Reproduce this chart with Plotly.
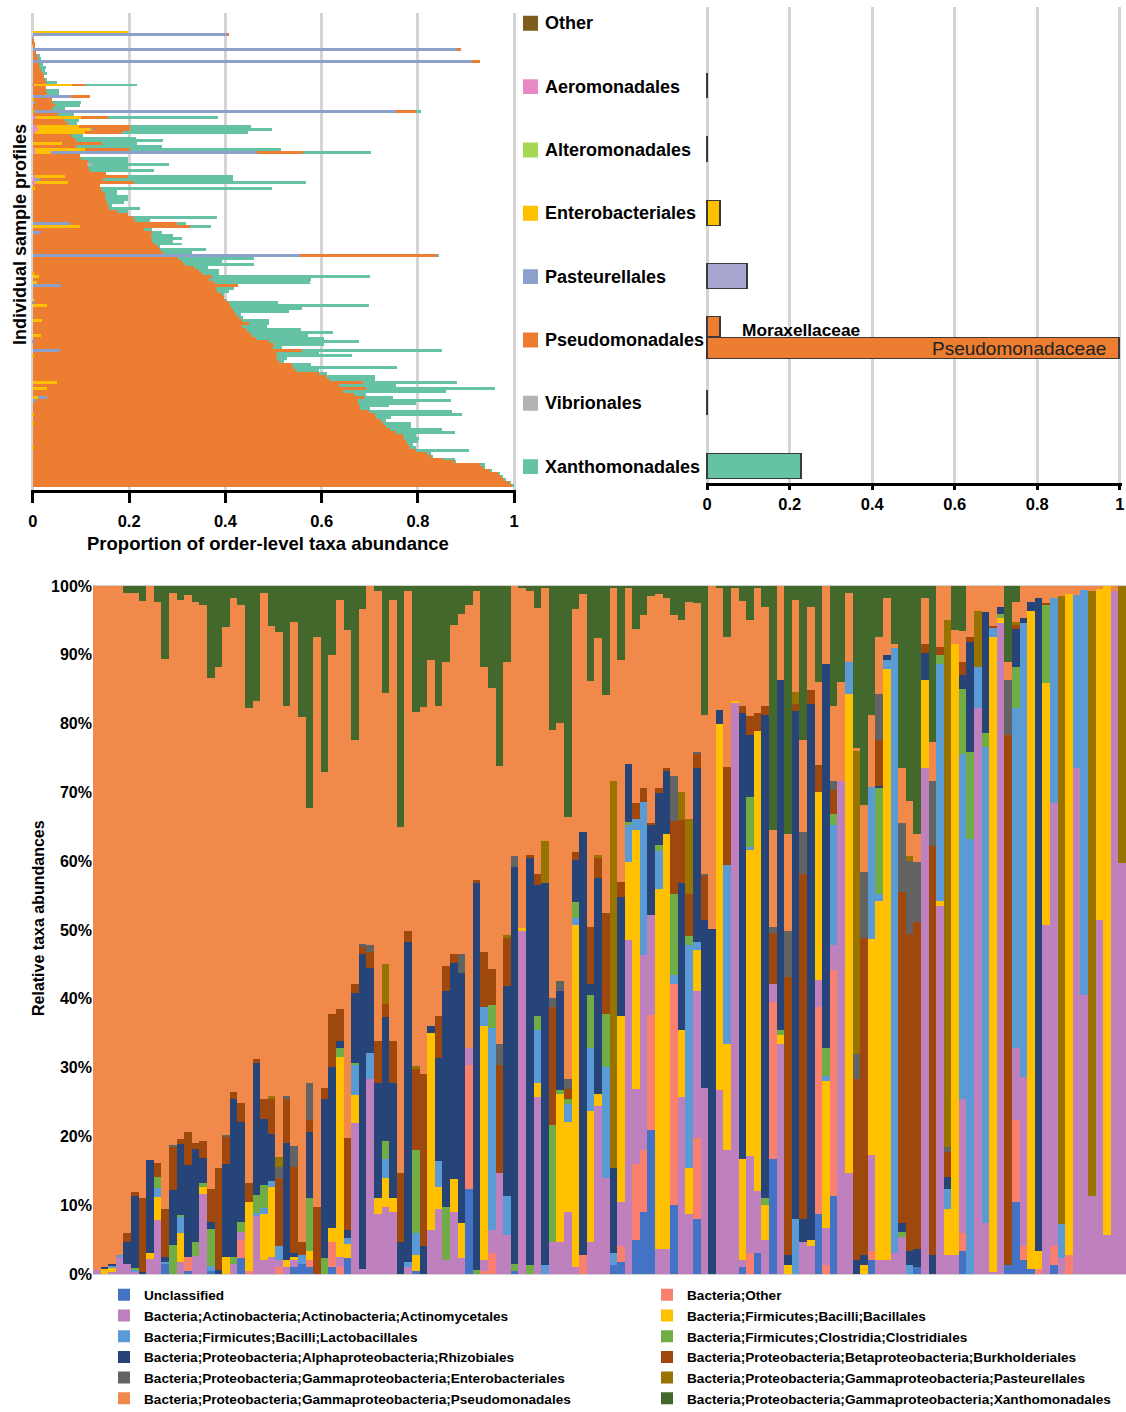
import plotly.graph_objects as go

W, H = 1126, 1412
ARIAL = "Liberation Sans, Arial, sans-serif"

# ---------------- per-sample order-level proportions (top left) ----------------
# orders that occur only in a handful of samples: {row: proportion}
AEROMONADALES = {18: .003, 29: .007, 32: .008, 33: .010, 34: .005, 40: .005, 41: .005,
                 49: .005, 50: .005, 51: .004}
ENTEROBACTERIALES = {0: .198, 18: .079, 23: .003, 27: .003, 29: .093, 32: .087, 33: .112,
                     34: .103, 38: .060, 40: .103, 41: .033, 49: .061, 51: .069, 53: .004,
                     66: .097, 82: .003, 83: .012, 85: .009, 91: .005, 93: .030, 98: .019,
                     103: .016, 110: .003, 119: .049, 121: .030, 124: .010, 130: .003,
                     133: .002, 141: .002}
PASTEURELLALES = {1: .404, 6: .882, 10: .912, 22: .079, 24: .005, 27: .752, 33: .003,
                  41: .428, 50: .010, 65: .077, 68: .017, 76: .556, 86: .058, 92: .003,
                  105: .003, 108: .056, 124: .020, 125: .007}
VIBRIONALES = {2: .003, 45: .009}
PSEUDOMONADALES = [
    0, .002, 0, .002, .004, .005, .007, .007, .009, .010,
    .018, .012, .014, .016, .020, .022, .025, .028, .026, .028,
    .028, .030, .039, .037, .037, .045, .040, .042, .052, .057,
    .066, .072, .107, .077, .077, .080, .085, .090, .084, .090,
    .094, .096, .097, .100, .115, .113, .115, .118, .151, .132,
    .131, .138, .139, .137, .143, .150, .150, .151, .153, .157,
    .158, .174, .198, .209, .212, .222, .229, .230, .230, .246,
    .247, .248, .254, .261, .264, .270, .284, .301, .310, .317,
    .334, .345, .349, .360, .365, .367, .369, .381, .383, .393,
    .397, .395, .404, .380, .414, .418, .422, .428, .416, .449,
    .435, .442, .449, .440, .463, .487, .501, .498, .504, .505,
    .505, .508, .511, .539, .540, .546, .595, .609, .616, .636,
    .637, .662, .644, .668, .659, .668, .675, .679, .679, .699,
    .707, .713, .724, .725, .734, .742, .755, .769, .772, .776,
    .779, .781, .797, .818, .828, .852, .877, .929, .936, .950,
    .967, .974, .980, .990, .996]
XANTHOMONADALES = [
    0, 0, 0, 0, 0, 0, 0, 0, .005, .007,
    0, .008, .013, .009, .010, 0, .005, .022, .109, 0,
    .026, .024, 0, 0, .058, .052, .026, .010, .034, .228,
    .030, .020, .251, .295, .261, .024, .130, .180, .072, .178,
    .314, .141, 0, .098, .083, .161, .083, .134, 0, .217,
    .269, .356, 0, .355, .031, .024, .048, .047, .037, .007,
    .065, .024, 0, .174, .032, .019, .045, .017, .021, .046,
    .063, .044, .056, .003, .096, .060, .004, .158, .083, .142,
    .030, .041, .034, .329, .213, .200, 0, .037, .024, .003,
    0, .004, .103, .289, .145, .114, .011, .008, .055, .041,
    .052, .115, .174, .115, .142, .187, .104, .020, .291, .089,
    .155, .021, .010, .039, .217, .049, .017, .101, .094, .197,
    .118, .268, .215, .024, .059, .193, .122, .062, .021, .171,
    .181, .032, .010, .059, .052, .109, .122, .028, .030, .024,
    .011, .014, .110, .010, .004, .025, .003, .011, .002, .003,
    .004, .003, .002, .003, .002]

# ---------------- mean order abundance (top right) ----------------
ORDERS = ["Other", "Aeromonadales", "Alteromonadales", "Enterobacteriales",
          "Pasteurellales", "Pseudomonadales", "Vibrionales", "Xanthomonadales"]
ORDER_ABUNDANCE = [None, 0.002, 0.001, 0.033, 0.098, None, 0.001, 0.228]
PSEUDO_FAMILIES = ["Moraxellaceae", "Pseudomonadaceae"]
PSEUDO_FAMILY_ABUNDANCE = [0.033, 1.0]
ORDER_SWATCH = ["#7F5B1E", "#E78AC3", "#A6D854", "#FFC000", "#8DA0CB", "#ED7D31",
                "#B3B3B3", "#66C2A5"]
ORDER_BAR = ["#7F5B1E", "#E78AC3", "#A6D854", "#FFC000", "#A8A4D0", "#ED7D31",
             "#B3B3B3", "#66C2A5"]

# ---------------- relative taxa abundances per sample (bottom, %) ----------------
UNCLASSIFIED = [
    0, 0, 0, 0, 0, 0, 0, 0, 0, 1.4,
    0, 0, .5, 0, 0, .4, 0, 0, 0, 2.3,
    0, 0, 0, 0, 0, 0, 1, 1.5, 1, 0,
    0, 1, 0, 2.3, 0, 0, 0, 0, 0, 0,
    0, 0, .5, 0, 0, 0, 0, 0, 0, 12.4,
    0, 0, 0, 0, 0, .5, 0, 0, 0, 0,
    0, 0, 0, 0, 0, 0, 0, 0, 1.3, 1.7,
    0, 5, 9, 21, 0, 0, 10, 0, 0, 8,
    0, 0, 0, 0, 0, 1, 0, 3, 0, 16.7,
    0, 0, 0, 0, 0, 8.7, 0, 11.4, 0, 0,
    0, 0, 2, 0, 0, 0, 0, 0, 1, 0,
    0, 0, 0, 0, 3.3, 0, 0, 0, 0, 0,
    1.3, 10.4, 2, .7, 0, 0, 1.3, 0, 0, 0,
    0, 0, 0, 0, 0, 0]
BACT_OTHER = [
    0, 0, 0, 0, 0, 0, 0, 0, 0, 0,
    0, 0, 2, 0, 0, 0, 0, 0, 0, 2.6,
    .5, 0, 0, 0, 1, 0, 0, 0, 1, 0,
    0, 3.7, 1, 0, 0, 0, 0, 0, 0, 0,
    0, 0, 0, 0, 0, 0, 0, 0, 0, 18,
    0, .5, 3, 0, 0, 0, 0, 0, 0, 0,
    0, 0, 0, 0, 2.7, 0, 0, 0, 0, 2.3,
    0, 11, 9, 16.6, 0, 0, 32.1, 0, 0, 11.7,
    0, 0, 0, 0, 0, 0, 3, 0, 0, 22.8,
    0, 0, 0, 0, 0, 30.1, 1.3, 32.8, 0, 0,
    0, 0, 1.3, 0, 0, 0, 0, 0, 0, 0,
    0, 0, 0, 0, 2.7, 0, 0, 0, 0, 0,
    0, 12, 2, 0, .7, 0, 2.7, 0, 2.7, 0,
    0, 0, 0, 0, 0, 0]
ACTINOMYCETALES = [
    .6, 0, .3, 2.6, 1.5, .3, 0, 2.2, 7.9, 0,
    0, 1.7, 0, 2.6, 11.7, 0, 0, 0, 1.4, 1.2,
    0, 8.5, 2, 2.4, 1, 1, 1, 0, 0, 0,
    0, 0, 1.5, 0, 22, .7, 28.4, 8.7, 9.7, 9,
    0, 1, 0, 0, 6.4, 9.4, 2, 9, 2.3, 2.4,
    0, 1.5, 3.4, 14.7, 5.7, 0, 49.8, 0, 25.8, 0,
    4.7, 4.7, 9, 1, 0, 4.7, 24.4, 14, 0, 6.4,
    48.5, 10.9, 28.3, 14.6, 3.7, 3.7, 0, 25.8, 8.7, 21.4,
    27, 0, 26.8, 18, 83, 1, 14.2, 9, 5, 2.6,
    33.4, 0, 0, 4.7, 4, 4, 5.4, 3.6, 71.6, 14.7,
    0, 0, 14, 2, 2, 3, 5.4, 0, 0, 73.6,
    0, 53.5, 2.7, 2.7, 19.4, 0, 82.3, 7.4, .3, 94.6,
    0, 10.4, 24.7, 0, 0, 50.8, 64.5, 2.3, 0, 73.6,
    40.5, 11.4, 51.4, 5.7, 99.3, 59.8]
BACILLALES = [
    0, .8, .6, 0, 0, 0, 0, .8, 3.3, 0,
    0, 4.2, 0, 0, .9, 0, 0, 2.4, 0, 0,
    9.9, 0, 6.7, 10.3, 0, 1, .5, 0, 1.3, 0,
    0, 2, 29.1, 2, 4, 0, 0, 2.3, 4.3, 2,
    0, 0, 2.3, 0, 28.7, 3.3, 0, 4.8, 5.1, 0,
    0, 34, 0, 0, 0, 0, .5, 0, 2, 0,
    0, 21.4, 13.1, 49.8, 0, 19, 1.7, 0, 0, 27.1,
    11.4, 37.6, 0, 0, 52.2, 60.2, 0, 9.7, 6.7, 6,
    0, 0, 53.2, 15.4, .3, 14.7, 44.5, 66.9, 5, 0,
    1.4, 1.3, 0, 0, 1, 27.2, 21.4, 0, 0, 69.6,
    0, 1.3, 31.4, 52.2, 85.9, 0, 0, 0, 0, 12.7,
    0, .7, 6.7, 88.9, 0, 0, 0, 0, 92.3, .7,
    0, 0, 0, 95.7, 2.7, 35.1, 0, 0, 96.1, 0,
    0, 0, 48.2, 94.3, 0, 0]
LACTOBACILLALES = [
    0, 0, .2, .2, 0, .3, 0, 0, 1.3, .4,
    0, 2.4, 0, 0, 0, .8, 0, 0, 0, 0,
    0, .4, .9, .8, 2, 0, 0, 1.2, 0, 0,
    0, 0, 0, 1, 4.4, 0, 3.7, 0, 2.7, 0,
    0, .7, 3.2, 0, 0, 3.7, 0, 0, 0, 0,
    0, 2.8, 29.4, 0, 5.7, 0, 0, 0, 7.7, 1.3,
    0, 0, 2.6, 1, 0, 9.1, 0, 16.1, 1.7, 0,
    5.3, 1.7, 22.3, 0, 5.6, 0, 1.4, 0, 32.4, 1.1,
    0, 0, 0, 26.1, 0, 0, .3, 0, 0, 0,
    0, 0, 8, 0, 0, 0, .7, 17.4, 0, 4.7,
    0, 0, 22.1, 1, 1.3, 88, 0, 1.3, 0, 0,
    0, 34.4, 3, 0, 50.2, 63.2, 5.9, 69.2, 1.3, 0,
    0, 49.5, 65.9, 0, 0, 0, 29.7, 5, 0, 25.1,
    58.9, 0, 0, 0, 0, 0]
CLOSTRIDIALES = [
    0, 0, 0, 0, 0, .3, 0, 0, 1.6, 0,
    4.2, .3, 0, 2, .6, 5.4, 0, 0, 1.1, 1.4,
    0, 2.6, 3.4, 0, 0, 0, 0, 0, 7.7, 0,
    2.3, 0, 1.2, 0, .3, 0, 0, 0, 2.6, 0,
    0, 0, 12, 0, 0, 0, 7.7, 0, 0, 0,
    .6, 0, 3.3, 0, 0, 1, 0, 1.3, 2, 0,
    17, .7, .7, 2.2, 0, 7.7, 0, 7.7, 0, 0,
    .5, 0, 0, 0, .8, 0, 11.7, 0, 1.4, 0,
    0, 0, 0, 0, 0, 0, 7.4, 0, 1, 0,
    .6, 0, 0, 0, 0, 0, 4, 1.7, 0, 0,
    0, 0, 0, 15.4, 0, 0, .7, 0, 0, 0,
    0, 1.3, 0, 0, 9.5, 12.7, 0, 2, 0, .7,
    0, 6, 0, 0, 0, 11.4, 0, 0, 0, 0,
    0, 0, 0, 0, 0, 0]
RHIZOBIALES = [
    0, .2, .3, 0, 3.2, 10.4, .3, 13.5, 0, .7,
    8, 10.3, 13.4, 13.5, 3.6, 1, .6, 13.6, 22.9, 14.6,
    0, 19.1, 9.5, 6.9, 0, 17, .5, 0, 9.7, 0,
    23.1, 23.4, 1, 1.1, 10.1, 45.8, 12.4, 16.8, 18, 16.8,
    4.7, 46.6, 0, 4, 1, 15, 31.4, 31.4, 36.3, 0,
    56.3, 0, 0, 0, 30.4, 57.7, 0, 59.2, 19, 55.6,
    0, 14.3, 0, 6.2, 61.5, 1.6, 31.4, 0, 12.4, 17.3,
    8.5, 0, 0, 13, 7.6, 9.2, 0, 21.4, 0, 25.4,
    24.5, 50.2, 2, 0, 0, 64.9, 9, 0, 70.3, 0,
    50.9, 1.4, 73.9, 3.3, 77.9, 0, 55.8, 0, 0, 0,
    2, 1.4, 0, .3, .7, 0, 1.3, 2, 2.7, 4,
    2.7, 0, 1.7, 0, 1.9, 16, 0, 17.6, 0, 1,
    0, 5.4, .7, 1.3, 94.9, 0, 0, 0, 0, 0,
    0, 0, 0, 0, 0, 0]
BURKHOLDERIALES = [
    0, 0, 0, 0, 1.3, .6, 10.8, 0, 2, 7,
    6.2, .7, 4.8, 1, 2.6, 4.8, 14.8, 4, 1, 2.8,
    2.8, .6, 2.9, 5, 10, 6.5, 12.6, 2, 1.7, 9.7,
    1.7, 7.7, 4.7, 13.3, 1.3, 1, 2.3, 6, 2, 6,
    10, 1.5, 11.8, 25.1, 0, 6.1, 3.7, 1.3, 0, 0,
    .4, 8, 5.2, 15.7, 7, 0, 0, .4, 1.7, 0,
    17.1, 0, 1.5, 1.2, 0, 8.4, 3, 14.7, 0, 2.2,
    0, 2.2, 2, .4, .7, .4, 10.7, 9.1, 6, 2,
    6.4, 0, 0, 14.2, 0, 1, 2.7, 2.7, 1.3, 7.4,
    0, 40.4, 1, 50.2, 2, 4, 0, 3.5, 0, 0,
    26.4, 46.1, 0, 6.7, 0, 0, 48.1, 46.1, 47.5, 1.3,
    59.5, 1.3, 3.7, 0, 2, .7, 0, 0, .3, 0,
    77, .7, 0, 0, 0, .3, 0, 0, 0, 0,
    0, 0, 0, 0, 0, 0]
ENTEROBACT_G = [
    0, 0, 0, 0, 0, 0, 0, 0, 0, 0,
    .3, 0, 0, 0, 0, 0, 0, .2, 0, 0,
    0, 0, 0, 0, 1.6, .4, 3, 0, 5.4, 0,
    0, 0, 0, 0, 0, .5, 1, 0, 0, 0,
    0, 0, 0, 0, 0, 0, 0, 0, 2.8, 0,
    0, 0, 0, 3, 0, 1.5, 0, 0, 0, 0,
    1.3, 1.5, 1.5, 0, 0, 0, 0, 0, 0, 0,
    0, 0, 0, 0, 0, 0, 6.5, 0, 0, .3,
    .3, 0, 0, 0, 0, 0, 0, 0, 0, 1,
    0, 6.7, 0, 6, 0, 0, 0, 1.2, 0, 0,
    3.6, 9.7, 0, 6.7, 0, 0, 10, 10.7, 8.7, 0,
    9.4, 0, .7, 0, 0, 0, 0, 0, 0, 0,
    8, 0, 0, 0, 0, 0, 0, 0, 0, 0,
    0, 0, 0, 0, 0, 0]
PASTEUR_G = [
    0, 0, 0, 0, 0, 0, 0, 0, 0, 0,
    0, 0, 0, 0, 0, 0, 0, 0, 0, 0,
    0, 0, 0, .5, 1.4, 0, 0, 0, 0, 0,
    0, 0, 0, 0, 0, 0, 0, 0, 5.7, 0,
    0, 0, .4, 0, 0, 0, 0, 0, 0, 0,
    0, 0, 0, 0, .5, 0, 0, 0, 0, 6,
    0, 0, 0, 0, 0, 0, .4, 0, 56.2, 0,
    0, 0, 0, 0, 0, 0, 0, 4, 11, 0,
    0, 0, 0, 0, 0, 0, 0, 0, 0, 0,
    0, 0, 1.7, 0, 0, 0, 0, 0, 0, 0,
    44, 0, 0, 0, 0, 0, 0, .7, 0, 0,
    0, 0, 76.6, 0, 0, 0, 8.1, 0, 0, 0,
    0, .3, 0, 0, 0, 0, 0, 91.3, 0, 0,
    0, 87.9, 0, 0, 0, 40.2]
PSEUDO_G = [
    99.4, 99, 98.6, 97.2, 93, 87.1, 86.7, 83.5, 81.6, 79.9,
    80.3, 78.4, 78, 78.6, 77.9, 74.2, 72.9, 73.8, 71.9, 72.4,
    69.1, 52.1, 73.6, 68.3, 76.3, 56.6, 76.1, 76.3, 40, 82.9,
    45.8, 52.2, 59.5, 73.9, 35.5, 48.7, 52.2, 65.5, 39.4, 64.2,
    50.3, 49.5, 51.5, 53.3, 53.2, 45, 44.2, 47.9, 49.5, 64.5,
    42, 41.5, 40.9, 40.4, 39.7, 39.3, 49.4, 38.4, 38.6, 36.9,
    38.9, 37.5, 38, 35.3, 34.7, 35.7, 31.5, 31.6, 28.2, 32.2,
    25.6, 25.4, 25.2, 32.9, 28.3, 24.8, 23.4, 25.1, 31.5, 21.6,
    23, 49.8, 17.7, 18.9, 16.4, 15.2, 14, 18.2, 14.4, 14,
    13.7, 14.1, 13.4, 13.4, 12.1, 12, 11.4, 11, 14.4, 10,
    .5, 9.7, 10.4, 8.3, 8.4, .5, 8.1, 8, 4, 6.7,
    5.7, 8.8, 4.9, 2, 4.4, 7.4, 3.7, 3.8, 5.8, 3,
    2.7, 3, 4.7, 2.3, 1.7, 2.4, 1.8, 1.4, 1.2, 1.3,
    .6, .7, .4, 0, .7, 0]
XANTHO_G = [
    0, 0, 0, 0, 1, 1, 2.2, 0, 2.3, 10.6,
    1, 2, 1.3, 2.3, 2.7, 13.4, 11.7, 6, 1.7, 2.7,
    17.7, 16.7, 1, 5.8, 6.7, 17.5, 5.3, 19, 32.2, 7.4,
    27.1, 10, 2, 6.4, 22.4, 3.3, 0, .7, 15.6, 2,
    35, .7, 18.3, 17.6, 10.7, 17.5, 11, 5.6, 4, 2.7,
    .7, 11.7, 14.8, 26.2, 11, 0, .3, .7, 3.2, .2,
    21, 19.9, 33.6, 3.3, 1.1, 13.8, 7.6, 15.9, .2, 10.8,
    .2, 6.2, 4.2, 1.5, 1.1, 1.7, 4.2, 4.9, 2.3, 2.5,
    18.8, 0, .3, 7.4, .3, 2.2, 4.9, .2, 3, 35.5,
    0, 36.1, 2, 22.4, 3, 14, 0, 17.4, 14, 1,
    23.5, 31.8, 18.8, 7.4, 1.7, 8.5, 26.4, 31.2, 36.1, 1.7,
    22.7, 0, 0, 6.4, 6.6, 0, 0, 0, 0, 0,
    11, 2.3, 0, 0, 0, 0, 0, 0, 0, 0,
    0, 0, 0, 0, 0, 0]

TAXA = [
    ("Unclassified", UNCLASSIFIED, "#4472C4", "legend"),
    ("Bacteria;Other", BACT_OTHER, "#F9806F", "legend2"),
    ("Bacteria;Actinobacteria;Actinobacteria;Actinomycetales", ACTINOMYCETALES, "#BF80BE", "legend"),
    ("Bacteria;Firmicutes;Bacilli;Bacillales", BACILLALES, "#FFC000", "legend2"),
    ("Bacteria;Firmicutes;Bacilli;Lactobacillales", LACTOBACILLALES, "#5B9BD5", "legend"),
    ("Bacteria;Firmicutes;Clostridia;Clostridiales", CLOSTRIDIALES, "#70AD47", "legend2"),
    ("Bacteria;Proteobacteria;Alphaproteobacteria;Rhizobiales", RHIZOBIALES, "#264478", "legend"),
    ("Bacteria;Proteobacteria;Betaproteobacteria;Burkholderiales", BURKHOLDERIALES, "#9E480E", "legend2"),
    ("Bacteria;Proteobacteria;Gammaproteobacteria;Enterobacteriales", ENTEROBACT_G, "#636363", "legend"),
    ("Bacteria;Proteobacteria;Gammaproteobacteria;Pasteurellales", PASTEUR_G, "#997300", "legend2"),
    ("Bacteria;Proteobacteria;Gammaproteobacteria;Pseudomonadales", PSEUDO_G, "#F0894A", "legend"),
    ("Bacteria;Proteobacteria;Gammaproteobacteria;Xanthomonadales", XANTHO_G, "#43682B", "legend2"),
]


def px_x(p):
    return p / W


def px_y(p):
    return 1 - p / H


def bold(size, family=ARIAL, color="black"):
    return dict(family=family, size=size, color=color, weight="bold")


fig = go.Figure()

# ---- top-left: stacked horizontal bars, one row per sample ----
n_rows = len(PSEUDOMONADALES)
rows = list(range(n_rows))
top_left = [
    ("Aeromonadales", [AEROMONADALES.get(r, 0) for r in rows], "#E78AC3"),
    ("Enterobacteriales", [ENTEROBACTERIALES.get(r, 0) for r in rows], "#FFC000"),
    ("Pasteurellales", [PASTEURELLALES.get(r, 0) for r in rows], "#8DA0CB"),
    ("Pseudomonadales", PSEUDOMONADALES, "#ED7D31"),
    ("Vibrionales", [VIBRIONALES.get(r, 0) for r in rows], "#B3B3B3"),
    ("Xanthomonadales", XANTHOMONADALES, "#66C2A5"),
]
for name, vals, col in top_left:
    fig.add_trace(go.Bar(
        name=name, y=rows, x=vals, orientation="h", width=1.0,
        marker=dict(color=col, line=dict(width=0)),
        xaxis="x", yaxis="y", showlegend=False, hoverinfo="x+name"))

# ---- top-right: mean abundance per order ----
fig.add_trace(go.Bar(
    y=ORDERS, x=ORDER_ABUNDANCE, orientation="h", width=0.4,
    marker=dict(color=ORDER_BAR, line=dict(color="#3a3a3a", width=1.5)),
    xaxis="x2", yaxis="y2", showlegend=False))
fig.add_trace(go.Bar(
    y=["Pseudomonadales"], x=[PSEUDO_FAMILY_ABUNDANCE[1]], orientation="h",
    width=0.332, offset=-0.026, name=PSEUDO_FAMILIES[1],
    marker=dict(color="#ED7D31", line=dict(color="#3a3a3a", width=1.5)),
    xaxis="x2", yaxis="y2", showlegend=False))
fig.add_trace(go.Bar(
    y=["Pseudomonadales"], x=[PSEUDO_FAMILY_ABUNDANCE[0]], orientation="h",
    width=0.325, offset=-0.367, name=PSEUDO_FAMILIES[0],
    marker=dict(color="#ED7D31", line=dict(color="#3a3a3a", width=1.5)),
    xaxis="x2", yaxis="y4", showlegend=False))

# ---- bottom: 100% stacked columns, one per sample ----
samples = list(range(1, len(PSEUDO_G) + 1))
for name, vals, col, leg in TAXA:
    fig.add_trace(go.Bar(
        name=name, x=samples, y=vals,
        marker=dict(color=col, line=dict(width=0)),
        xaxis="x3", yaxis="y3", legend=leg))

ticks01 = [0, 0.2, 0.4, 0.6, 0.8, 1]
ticktext01 = ["0", "0.2", "0.4", "0.6", "0.8", "1"]
common_x = dict(
    range=[-0.004, 1.004], tickvals=ticks01, ticktext=ticktext01,
    showgrid=True, gridcolor="#D4D4D4", gridwidth=3, zeroline=False,
    showline=True, linecolor="black", linewidth=3,
    ticks="outside", tickcolor="black", tickwidth=3,
    tickfont=bold(16.5), fixedrange=True)

cat_axis = dict(type="category", categoryorder="array", categoryarray=ORDERS,
                range=[7.263, -0.257], showticklabels=False, showgrid=False,
                zeroline=False, showline=False, ticks="")

fig.update_layout(
    width=W, height=H,
    margin=dict(l=0, r=0, t=0, b=0, autoexpand=False),
    paper_bgcolor="white", plot_bgcolor="white",
    barmode="stack", bargap=0,
    font=dict(family=ARIAL, color="black"),
    xaxis=dict(domain=[px_x(31), px_x(516)], anchor="y", ticklen=10,
               ticklabelstandoff=4, **common_x),
    yaxis=dict(domain=[px_y(490), px_y(13)], anchor="x",
               range=[n_rows + 0.53, -6.45], showticklabels=False, showgrid=False,
               zeroline=False, showline=False, ticks=""),
    xaxis2=dict(domain=[px_x(705.5), px_x(1121.5)], anchor="y2", ticklen=4,
                ticklabelstandoff=0, **common_x),
    yaxis2=dict(domain=[px_y(483.3), px_y(7)], anchor="x2", **cat_axis),
    yaxis4=dict(overlaying="y2", anchor="x2", visible=False, **cat_axis),
    xaxis3=dict(domain=[px_x(93), 1], anchor="y3", range=[0.5, len(samples) + 0.5],
                showticklabels=False, ticks="", showgrid=False, zeroline=False,
                showline=True, linecolor="#D0D0D0", linewidth=1, mirror=True),
    yaxis3=dict(domain=[px_y(1274), px_y(586)], anchor="x3", range=[0, 100],
                tickvals=list(range(0, 101, 10)),
                ticktext=[f"{v}%" for v in range(0, 101, 10)],
                tickfont=bold(16), ticks="", showgrid=False, zeroline=False,
                showline=False),
    legend=dict(x=px_x(104), y=px_y(1279.5), xanchor="left", yanchor="top",
                orientation="v", traceorder="normal", bgcolor="rgba(0,0,0,0)",
                font=bold(13.6)),
    legend2=dict(x=px_x(647), y=px_y(1279.5), xanchor="left", yanchor="top",
                 orientation="v", traceorder="normal", bgcolor="rgba(0,0,0,0)",
                 font=bold(13.6)),
)

annotations = [
    dict(text="Individual sample profiles", x=px_x(20), y=px_y(235), xref="paper",
         yref="paper", xanchor="center", yanchor="middle", textangle=-90,
         showarrow=False, font=bold(18)),
    dict(text="Proportion of order-level taxa abundance", x=px_x(268), y=px_y(544),
         xref="paper", yref="paper", xanchor="center", yanchor="middle",
         showarrow=False, font=bold(18.5)),
    dict(text="Relative taxa abundances", x=px_x(38), y=px_y(918), xref="paper",
         yref="paper", xanchor="center", yanchor="middle", textangle=-90,
         showarrow=False, font=bold(16)),
    dict(text=PSEUDO_FAMILIES[0], x=0.08, y=4.84, xref="x2", yref="y2",
         xanchor="left", yanchor="middle", showarrow=False, font=bold(17.3)),
    dict(text=PSEUDO_FAMILIES[1], x=0.971, y=5.13, xref="x2", yref="y2",
         xanchor="right", yanchor="middle", showarrow=False,
         font=dict(family=ARIAL, size=19, color="#222222")),
]
shapes = []
for k, (name, col) in enumerate(zip(ORDERS, ORDER_SWATCH)):
    annotations.append(dict(text=name, x=px_x(543), y=k, xref="paper", yref="y2",
                            xanchor="left", yanchor="middle", showarrow=False,
                            font=bold(18)))
    shapes.append(dict(type="rect", xref="paper", yref="y2",
                       x0=px_x(523), x1=px_x(538), y0=k - 0.118, y1=k + 0.118,
                       fillcolor=col, line=dict(width=0)))
fig.update_layout(annotations=annotations, shapes=shapes)

fig.write_html("out.html")
